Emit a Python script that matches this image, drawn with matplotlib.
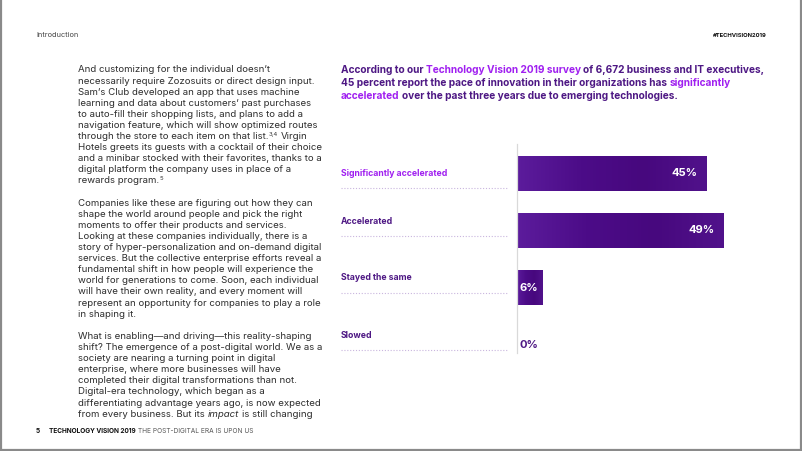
import matplotlib
matplotlib.use("Agg")
import matplotlib.pyplot as plt
import numpy as np
from matplotlib.colors import LinearSegmentedColormap

# ---------------- data ----------------
categories = ["Significantly accelerated", "Accelerated", "Stayed the same", "Slowed"]
values = [45, 49, 6, 0]
value_labels = ["45%", "49%", "6%", "0%"]

title_lines = [
    [("According to our ", "d"), ("Technology Vision 2019 survey", "b"), (" of 6,672 business and IT executives,", "d")],
    [("45 percent report the pace of innovation in their organizations has ", "d"), ("significantly", "b")],
    [("accelerated", "b"), (" over the past three years due to emerging technologies.", "d")],
]

body_paragraphs = [
    [
        [("And customizing for the individual doesn’t", "")],
        [("necessarily require Zozosuits or direct design input.", "")],
        [("Sam’s Club developed an app that uses machine", "")],
        [("learning and data about customers’ past purchases", "")],
        [("to auto-fill their shopping lists, and plans to add a", "")],
        [("navigation feature, which will show optimized routes", "")],
        [("through the store to each item on that list.", ""), ("3,4", "sup"), (" Virgin", "")],
        [("Hotels greets its guests with a cocktail of their choice", "")],
        [("and a minibar stocked with their favorites, thanks to a", "")],
        [("digital platform the company uses in place of a", "")],
        [("rewards program.", ""), ("5", "sup")],
    ],
    [
        [("Companies like these are figuring out how they can", "")],
        [("shape the world around people and pick the right", "")],
        [("moments to offer their products and services.", "")],
        [("Looking at these companies individually, there is a", "")],
        [("story of hyper-personalization and on-demand digital", "")],
        [("services. But the collective enterprise efforts reveal a", "")],
        [("fundamental shift in how people will experience the", "")],
        [("world for generations to come. Soon, each individual", "")],
        [("will have their own reality, and every moment will", "")],
        [("represent an opportunity for companies to play a role", "")],
        [("in shaping it.", "")],
    ],
    [
        [("What is enabling—and driving—this reality-shaping", "")],
        [("shift? The emergence of a post-digital world. We as a", "")],
        [("society are nearing a turning point in digital", "")],
        [("enterprise, where more businesses will have", "")],
        [("completed their digital transformations than not.", "")],
        [("Digital-era technology, which began as a", "")],
        [("differentiating advantage years ago, is now expected", "")],
        [("from every business. But its ", ""), ("impact", "it"), (" is still changing", "")],
    ],
]

header_left = "Introduction"
header_right = "#TECHVISION2019"
footer_num = "5"
footer_bold = "TECHNOLOGY VISION 2019"
footer_rest = "THE POST-DIGITAL ERA IS UPON US"

# ---------------- style ----------------
W, H = 802, 451
FAM = ["Inter", "DejaVu Sans"]
DARK = "#4e1884"
BRIGHT = "#a020f0"
BAR = "#4b0a84"
BODY = "#2e2e2e"

fig = plt.figure(figsize=(W / 100, H / 100), dpi=100)
fig.patch.set_facecolor("white")
page = fig.add_axes([0, 0, 1, 1])
page.set_xlim(0, W)
page.set_ylim(H, 0)
page.axis("off")
R = fig.canvas.get_renderer()


def txt_width(s, size, weight="normal", style="normal"):
    t = page.text(0, 0, s, fontsize=size, fontweight=weight, fontstyle=style, family=FAM)
    w = t.get_window_extent(R).width
    t.remove()
    return w


def fit(s, target, weight="normal"):
    return 10 * target / txt_width(s, 10, weight)


def space_w(size, weight="normal"):
    return txt_width("a a", size, weight) - txt_width("aa", size, weight)


def draw_runs(x, y, runs, size, weight="normal"):
    for s, color, style, sup in runs:
        fs = size * 0.62 if sup else size
        sw = space_w(fs, weight)
        lead = len(s) - len(s.lstrip(" "))
        trail = len(s) - len(s.rstrip(" "))
        x += lead * sw
        core = s.strip(" ")
        t = page.text(x, y - (3.2 if sup else 0), core, fontsize=fs, color=color,
                      fontweight=weight, fontstyle=style, family=FAM, va="baseline", ha="left")
        x += t.get_window_extent(R).width + trail * sw
    return x


# ---------------- page frame ----------------
page.plot([0.8, 0.8], [0, H], color="#8a8a8a", lw=1.6)
page.plot([W - 1.2, W - 1.2], [0, H], color="#8a8a8a", lw=1.6)
page.plot([0, W], [H - 1.5, H - 1.5], color="#8a8a8a", lw=1.6)

# ---------------- header / footer ----------------
fs_h = fit(header_left, 42)
page.text(36, 37, header_left, fontsize=fs_h, color="#444444", family=FAM, va="baseline")
fs_hr = fit(header_right, 54, "bold")
page.text(767, 37, header_right, fontsize=fs_hr, color="#111111", fontweight="bold",
          family=FAM, va="baseline", ha="right")

fs_f = fit(footer_bold, 88, "bold")
page.text(36, 433, footer_num, fontsize=fs_f, color="#111111", fontweight="bold", family=FAM, va="baseline")
xf = draw_runs(49, 433, [(footer_bold, "#111111", "normal", False)], fs_f, "bold")
draw_runs(xf + space_w(fs_f), 433, [(footer_rest, "#555555", "normal", False)], fs_f)

# ---------------- body text ----------------
fs_body = fit("Hotels greets its guests with a cocktail of their choice", 245)
line_h = 11.1
y = 72.5
for para in body_paragraphs:
    for line in para:
        runs = []
        for s, kind in line:
            runs.append((s, BODY, "italic" if kind == "it" else "normal", kind == "sup"))
        draw_runs(78, y, runs, fs_body)
        y += line_h
    y += line_h

# ---------------- title ----------------
fs_title = fit("".join(s for s, _ in title_lines[0]), 426, "bold")
for i, line in enumerate(title_lines):
    runs = [(s, BRIGHT if c == "b" else DARK, "normal", False) for s, c in line]
    draw_runs(341, 73 + i * 12.8, runs, fs_title, "bold")

# ---------------- chart ----------------
PX_PER_UNIT = 4.22
XMAX = 60
ax_left, ax_top, ax_bottom = 516.5, 144.4, 352.5
ax = fig.add_axes([ax_left / W, (H - ax_bottom) / H, XMAX * PX_PER_UNIT / W, (ax_bottom - ax_top) / H])
ax.set_xlim(0, XMAX)
ax.set_ylim(3.14, -0.51)
ax.patch.set_alpha(0)
ypos = list(range(len(categories)))
bars = ax.barh(ypos, values, height=0.6, color=BAR, edgecolor="none")

# subtle sheen over the bars (stand-in for the textured fill)
sheen = LinearSegmentedColormap.from_list("sheen", ["#5c1c9c", "#4c0c88", "#47087e", "#51128b"])
grad = np.linspace(0, 1, 256).reshape(1, -1)
for b in bars:
    if b.get_width() > 0:
        x0, y0 = b.get_x(), b.get_y()
        im = ax.imshow(grad, cmap=sheen, aspect="auto", interpolation="bicubic",
                       extent=(x0, x0 + b.get_width(), y0 + b.get_height(), y0), zorder=2)
        im.set_clip_path(b)
ax.set_xlim(0, XMAX)
ax.set_ylim(3.14, -0.51)

for sp in ["top", "right", "bottom"]:
    ax.spines[sp].set_visible(False)
ax.spines["left"].set_color("#d9d9d9")
ax.spines["left"].set_linewidth(0.9)
ax.set_xticks([])
ax.set_yticks([])

fs_val = fit("45%", 26, "bold")
for yi, v, lab in zip(ypos, values, value_labels):
    if v >= 20:
        ax.annotate(lab, xy=(v, yi), xytext=(-9, 0), textcoords="offset pixels", ha="right",
                    va="center", color="white", fontweight="bold", fontsize=fs_val, family=FAM, zorder=5)
    elif v > 0:
        ax.annotate(lab, xy=(v / 2, yi), ha="center", va="center", color="white",
                    fontweight="bold", fontsize=fs_val, family=FAM, zorder=5)
    else:
        ax.annotate(lab, xy=(0, yi), xytext=(3, 0), textcoords="offset pixels", ha="left",
                    va="center", color=DARK, fontweight="bold", fontsize=fs_val, family=FAM, zorder=5)

# category labels with dotted underlines
label_y = [174, 221, 278, 335]
dot_y = [188, 236, 293, 350]
fs_lab = fit(categories[0], 106, "bold")
for i, cat in enumerate(categories):
    page.text(341, label_y[i], cat, fontsize=fs_lab, fontweight="bold",
              color=BRIGHT if i == 0 else DARK, family=FAM, va="center", ha="left")
    page.plot([341, 507], [dot_y[i], dot_y[i]], color="#c9b6de", lw=0.8, linestyle=(0, (1, 1.6)))

fig.savefig("out.png", dpi=100)
